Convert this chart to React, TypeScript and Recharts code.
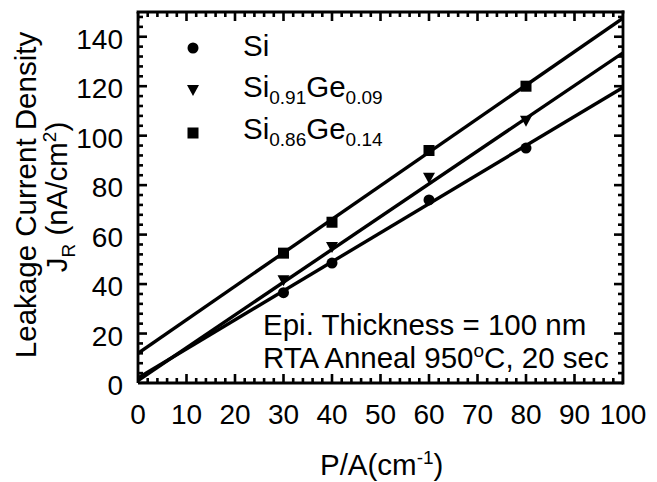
import React from 'react';
import { ComposedChart, Scatter, XAxis, YAxis } from 'recharts';

// ---- data ----
const xMajorTicks = [0, 10, 20, 30, 40, 50, 60, 70, 80, 90, 100];
const yMajorTicks = [0, 20, 40, 60, 80, 100, 120, 140];
const xDomain = [0, 100];
const yDomain = [0, 150];

const siPoints = [
  { x: 30, y: 36.5 },
  { x: 40, y: 48.5 },
  { x: 60, y: 74 },
  { x: 80, y: 95 },
];
const sige09Points = [
  { x: 30, y: 41.5 },
  { x: 40, y: 55 },
  { x: 60, y: 83 },
  { x: 80, y: 106 },
];
const sige14Points = [
  { x: 30, y: 52.5 },
  { x: 40, y: 65 },
  { x: 60, y: 94 },
  { x: 80, y: 120 },
];
const siFit = [
  { x: 0, y: 2 },
  { x: 100, y: 119.5 },
];
const sige09Fit = [
  { x: 0, y: 1 },
  { x: 100, y: 133.5 },
];
const sige14Fit = [
  { x: 0, y: 12 },
  { x: 100, y: 147.5 },
];

// ---- layout ----
const W = 657;
const H = 482;
const PLOT_LEFT = 138;
const PLOT_TOP = 12;
const PLOT_RIGHT = 623;
const PLOT_BOTTOM = 383;
const FONT = '"Liberation Sans", Arial, Helvetica, sans-serif';
const TICK_FS = 28;
const TEXT_FS = 29.5;
const MAJOR_LEN = 9;
const MINOR_LEN = 5;
const TICK_W = 2.6;

const xMinorStep = 2;
const yMinorStep = 4;
const xAllTicks: number[] = [];
for (let v = xDomain[0]; v <= xDomain[1]; v += xMinorStep) xAllTicks.push(v);
const yAllTicks: number[] = [];
for (let v = yDomain[0]; v <= yDomain[1]; v += yMinorStep) yAllTicks.push(v);

// tick-mark positions, placed through the chart scales as scatter marks
const bottomMarks = xAllTicks.map((v) => ({ x: v, y: yDomain[0] }));
const topMarks = xAllTicks.map((v) => ({ x: v, y: yDomain[1] }));
const leftMarks = yAllTicks.map((v) => ({ x: xDomain[0], y: v }));
const rightMarks = yAllTicks.map((v) => ({ x: xDomain[1], y: v }));

const BottomLabel = (props: any) => {
  const { x, y, payload } = props;
  const v = payload.value;
  return (
    <g>
      {v === xDomain[0] && (
        <line x1={PLOT_LEFT} x2={PLOT_RIGHT} y1={PLOT_TOP} y2={PLOT_TOP} stroke="#000" strokeWidth={2.8} strokeLinecap="square" />
      )}
      <text x={x} y={y + 41} textAnchor="middle" fontSize={TICK_FS} fontFamily={FONT} fill="#000" stroke="none">
        {v}
      </text>
    </g>
  );
};

const LeftLabel = (props: any) => {
  const { x, y, payload } = props;
  const v = payload.value;
  return (
    <g>
      {v === yDomain[0] && (
        <line x1={PLOT_RIGHT} x2={PLOT_RIGHT} y1={PLOT_TOP} y2={PLOT_BOTTOM} stroke="#000" strokeWidth={2.8} strokeLinecap="square" />
      )}
      <text x={x - 15} y={y + 12} textAnchor="end" fontSize={TICK_FS} fontFamily={FONT} fill="#000" stroke="none">
        {v}
      </text>
    </g>
  );
};

const makeVMark = (dir: number) => (props: any) => {
  const { cx, cy, payload } = props;
  const v = payload && payload.x;
  const len = xMajorTicks.includes(v) ? MAJOR_LEN : MINOR_LEN;
  return <rect x={cx - TICK_W / 2} y={dir < 0 ? cy - len : cy} width={TICK_W} height={len} fill="#000" />;
};
const makeHMark = (dir: number) => (props: any) => {
  const { cx, cy, payload } = props;
  const v = payload && payload.y;
  const len = yMajorTicks.includes(v) ? MAJOR_LEN : MINOR_LEN;
  return <rect x={dir > 0 ? cx : cx - len} y={cy - TICK_W / 2} width={len} height={TICK_W} fill="#000" />;
};
const BottomMark = makeVMark(-1);
const TopMark = makeVMark(1);
const LeftMark = makeHMark(1);
const RightMark = makeHMark(-1);

const Circle = (props: any) => {
  const { cx, cy } = props;
  return <circle cx={cx} cy={cy} r={5.5} fill="#000" stroke="none" />;
};
const DownTriangle = (props: any) => {
  const { cx, cy } = props;
  return <polygon points={`${cx - 6},${cy - 5} ${cx + 6},${cy - 5} ${cx},${cy + 6}`} fill="#000" stroke="none" />;
};
const Square = (props: any) => {
  const { cx, cy } = props;
  return <rect x={cx - 5.5} y={cy - 5.5} width={11} height={11} fill="#000" stroke="none" />;
};
const NoShape = () => <g />;

const FIT_W = 3.4;
const lineStyle = { stroke: '#000', strokeWidth: FIT_W };

export default function App() {
  return (
    <div style={{ position: 'absolute', left: 0, top: 0, width: W, height: H, background: '#fff' }}>
      <svg
        width={W}
        height={H}
        style={{ position: 'absolute', left: 0, top: 0, pointerEvents: 'none' }}
        fontFamily={FONT}
      >
        {/* Y axis title */}
        <text x={36} y={195} transform="rotate(-90, 36, 195)" textAnchor="middle" fontSize={TEXT_FS} fill="#000">
          Leakage Current Density
        </text>
        <text x={67} y={197} transform="rotate(-90, 67, 197)" textAnchor="middle" fontSize={TEXT_FS} fill="#000">
          J<tspan dy={8} fontSize={19}>R</tspan>
          <tspan dy={-8}> (nA/cm</tspan>
          <tspan dy={-11} fontSize={19}>2</tspan>
          <tspan dy={11}>)</tspan>
        </text>
        {/* X axis title */}
        <text x={320} y={475} fontSize={TEXT_FS} fill="#000">
          P/A(cm<tspan dy={-11} fontSize={19}>-1</tspan>
          <tspan dy={11}>)</tspan>
        </text>
        {/* legend */}
        <Circle cx={193} cy={48} />
        <text x={243} y={56} fontSize={TEXT_FS} fill="#000">Si</text>
        <DownTriangle cx={193} cy={90} />
        <text x={243} y={97} fontSize={TEXT_FS} fill="#000">
          Si<tspan dy={7} fontSize={19}>0.91</tspan>
          <tspan dy={-7}>Ge</tspan>
          <tspan dy={7} fontSize={19}>0.09</tspan>
        </text>
        <Square cx={193} cy={133} />
        <text x={243} y={139} fontSize={TEXT_FS} fill="#000">
          Si<tspan dy={7} fontSize={19}>0.86</tspan>
          <tspan dy={-7}>Ge</tspan>
          <tspan dy={7} fontSize={19}>0.14</tspan>
        </text>
        {/* annotation */}
        <text x={263} y={335} fontSize={TEXT_FS} fill="#000">Epi. Thickness = 100 nm</text>
        <text x={263} y={368} fontSize={TEXT_FS} fill="#000">
          RTA Anneal 950<tspan dy={-11} fontSize={19}>o</tspan>
          <tspan dy={11}>C, 20 sec</tspan>
        </text>
      </svg>
      <ComposedChart
        width={W}
        height={H}
        margin={{ top: PLOT_TOP, right: W - PLOT_RIGHT, bottom: 0, left: 0 }}
      >
        <XAxis
          type="number"
          dataKey="x"
          domain={xDomain}
          ticks={xMajorTicks}
          interval={0}
          tickSize={0}
          tickMargin={0}
          tickLine={false}
          tick={<BottomLabel />}
          axisLine={{ stroke: '#000', strokeWidth: 2.8 }}
          height={H - PLOT_BOTTOM}
          allowDataOverflow
        />
        <YAxis
          type="number"
          dataKey="y"
          domain={yDomain}
          ticks={yMajorTicks}
          interval={0}
          tickSize={0}
          tickMargin={0}
          tickLine={false}
          tick={<LeftLabel />}
          axisLine={{ stroke: '#000', strokeWidth: 2.8 }}
          width={PLOT_LEFT}
          allowDataOverflow
        />
        <Scatter data={bottomMarks} shape={<BottomMark />} isAnimationActive={false} />
        <Scatter data={topMarks} shape={<TopMark />} isAnimationActive={false} />
        <Scatter data={leftMarks} shape={<LeftMark />} isAnimationActive={false} />
        <Scatter data={rightMarks} shape={<RightMark />} isAnimationActive={false} />
        <Scatter data={siFit} line={lineStyle} stroke="#000" strokeWidth={FIT_W} shape={<NoShape />} isAnimationActive={false} />
        <Scatter data={sige09Fit} line={lineStyle} stroke="#000" strokeWidth={FIT_W} shape={<NoShape />} isAnimationActive={false} />
        <Scatter data={sige14Fit} line={lineStyle} stroke="#000" strokeWidth={FIT_W} shape={<NoShape />} isAnimationActive={false} />
        <Scatter data={siPoints} shape={<Circle />} isAnimationActive={false} />
        <Scatter data={sige09Points} shape={<DownTriangle />} isAnimationActive={false} />
        <Scatter data={sige14Points} shape={<Square />} isAnimationActive={false} />
      </ComposedChart>
    </div>
  );
}
